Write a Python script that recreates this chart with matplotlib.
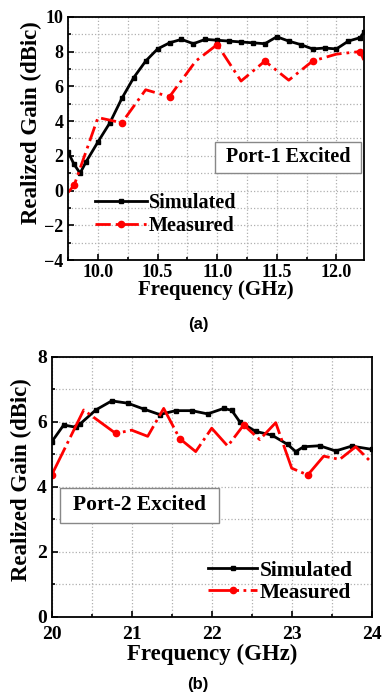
import numpy as np
import matplotlib
matplotlib.use("Agg")
import matplotlib.pyplot as plt
from matplotlib.patches import Rectangle
from matplotlib.ticker import MultipleLocator, FormatStrFormatter

plt.rcParams['font.family'] = ['Liberation Serif', 'DejaVu Serif']
plt.rcParams['font.weight'] = 'bold'

# ---- (a) Port-1, X band ----
sim1_f = [9.75, 9.8, 9.85, 9.9, 10.0, 10.1, 10.2, 10.3, 10.4, 10.5, 10.6, 10.7,
          10.8, 10.9, 11.0, 11.1, 11.2, 11.3, 11.4, 11.5, 11.6, 11.7, 11.8, 11.9,
          12.0, 12.1, 12.2, 12.23]
sim1_g = [2.2, 1.5, 1.0, 1.65, 2.8, 3.9, 5.3, 6.5, 7.45, 8.15, 8.5, 8.7,
          8.45, 8.7, 8.65, 8.6, 8.55, 8.5, 8.45, 8.85, 8.6, 8.4, 8.15, 8.2,
          8.15, 8.6, 8.8, 9.1]
mea1_f = [9.75, 9.8, 10.0, 10.2, 10.4, 10.6, 10.82, 11.0, 11.2, 11.4, 11.6, 11.8,
          12.0, 12.2, 12.23]
mea1_g = [-0.1, 0.3, 4.2, 3.9, 5.8, 5.4, 7.45, 8.4, 6.3, 7.45, 6.35, 7.45,
          7.85, 8.0, 7.5]
mea1_marks = [1, 3, 5, 7, 9, 11, 13]

# ---- (b) Port-2, K band ----
sim2_f = [20.0, 20.15, 20.3, 20.35, 20.55, 20.75, 20.95, 21.15, 21.35, 21.55,
          21.75, 21.95, 22.15, 22.25, 22.35, 22.55, 22.75, 22.95, 23.05, 23.15,
          23.35, 23.55, 23.75, 24.0]
sim2_g = [5.38, 5.9, 5.83, 5.92, 6.36, 6.64, 6.57, 6.39, 6.22, 6.34,
          6.34, 6.24, 6.41, 6.35, 6.0, 5.7, 5.59, 5.3, 5.08, 5.23,
          5.26, 5.1, 5.25, 5.15]
mea2_f = [20.0, 20.4, 20.8, 21.0, 21.2, 21.4, 21.6, 21.8, 22.0, 22.2, 22.4,
          22.6, 22.8, 23.0, 23.2, 23.4, 23.6, 23.8, 24.0]
mea2_g = [4.36, 6.36, 5.64, 5.74, 5.55, 6.41, 5.48, 5.08, 5.8, 5.25, 5.9,
          5.45, 5.97, 4.57, 4.36, 4.94, 4.84, 5.23, 4.74]
mea2_marks = [0, 2, 6, 10, 14]

fig = plt.figure(figsize=(3.83, 6.99), dpi=100)
ax1 = fig.add_axes([0.178, 0.628, 0.772, 0.348])
ax2 = fig.add_axes([0.135, 0.1177, 0.8355, 0.372])


def style_axes(ax, tick_size):
    ax.grid(True, which='both', color='#b0b0b0', linestyle=':', linewidth=0.9)
    ax.set_axisbelow(True)
    ax.tick_params(which='both', direction='in', labelsize=tick_size, width=1.2)
    ax.tick_params(which='major', length=4)
    ax.tick_params(which='minor', length=2.5)
    for s in ax.spines.values():
        s.set_linewidth(1.3)
    for lab in ax.get_xticklabels() + ax.get_yticklabels():
        lab.set_fontweight('bold')


# top chart
ax1.plot(sim1_f, sim1_g, color='black', lw=2, marker='s', ms=3.5, label='Simulated')
ax1.plot(mea1_f, mea1_g, color='red', lw=2, linestyle=(0, (5.5, 1.8, 1.0, 1.8)),
         marker='o', ms=4.5, markevery=mea1_marks, label='Measured')
ax1.set_xlim(9.75, 12.23)
ax1.set_ylim(-4, 10)
ax1.xaxis.set_major_locator(MultipleLocator(0.5))
ax1.xaxis.set_minor_locator(MultipleLocator(0.25))
ax1.xaxis.set_major_formatter(FormatStrFormatter('%.1f'))
ax1.yaxis.set_major_locator(MultipleLocator(2))
ax1.yaxis.set_minor_locator(MultipleLocator(1))
style_axes(ax1, 13)
ax1.tick_params(axis='x', pad=3)
ax1.set_xlabel('Frequency (GHz)', fontsize=15, fontweight='bold', labelpad=-1)
ax1.set_ylabel('Realized Gain (dBic)', fontsize=16.5, fontweight='bold')
ax1.yaxis.set_label_coords(-0.088, 0.564)
ax1.legend(loc='center left', bbox_to_anchor=(0.09, 0.188), frameon=False,
           fontsize=14.5, handlelength=2.6, handletextpad=0.1, labelspacing=0.15,
           borderpad=0, borderaxespad=0)
ax1.add_patch(Rectangle((0.496, 0.359), 0.496, 0.128, transform=ax1.transAxes,
                        facecolor='white', edgecolor='#888888', lw=1, zorder=5))
ax1.text(0.744, 0.423, 'Port-1 Excited', transform=ax1.transAxes, ha='center',
         va='center', fontsize=14.5, fontweight='bold', zorder=6)

# bottom chart
ax2.plot(sim2_f, sim2_g, color='black', lw=2, marker='s', ms=3.5, label='Simulated')
ax2.plot(mea2_f, mea2_g, color='red', lw=2, linestyle=(0, (11, 1.6, 1.0, 1.6)),
         marker='o', ms=4.5, markevery=mea2_marks, label='Measured')
ax2.set_xlim(20, 24)
ax2.set_ylim(0, 8)
ax2.xaxis.set_major_locator(MultipleLocator(1))
ax2.xaxis.set_minor_locator(MultipleLocator(0.5))
ax2.yaxis.set_major_locator(MultipleLocator(2))
ax2.yaxis.set_minor_locator(MultipleLocator(1))
style_axes(ax2, 14)
ax2.tick_params(axis='x', pad=7)
ax2.set_xlabel('Frequency (GHz)', fontsize=16.5, fontweight='bold', labelpad=0)
ax2.set_ylabel('Realized Gain (dBic)', fontsize=16.5, fontweight='bold')
ax2.yaxis.set_label_coords(-0.06, 0.526)
ax2.legend(loc='center left', bbox_to_anchor=(0.488, 0.135), frameon=False,
           fontsize=15.5, handlelength=2.3, handletextpad=0.1, labelspacing=0.1,
           borderpad=0, borderaxespad=0)
ax2.add_patch(Rectangle((0.026, 0.3615), 0.498, 0.1325, transform=ax2.transAxes,
                        facecolor='white', edgecolor='#888888', lw=1, zorder=5))
ax2.text(0.275, 0.428, 'Port-2 Excited', transform=ax2.transAxes, ha='center',
         va='center', fontsize=15.5, fontweight='bold', zorder=6)

fig.text(0.517, 1 - 325 / 699, '(a)', ha='center', va='center', fontsize=12,
         family=['Liberation Sans', 'DejaVu Sans'], fontweight='bold')
fig.text(0.517, 1 - 685 / 699, '(b)', ha='center', va='center', fontsize=12,
         family=['Liberation Sans', 'DejaVu Sans'], fontweight='bold')

fig.savefig('out.png', dpi=100)
